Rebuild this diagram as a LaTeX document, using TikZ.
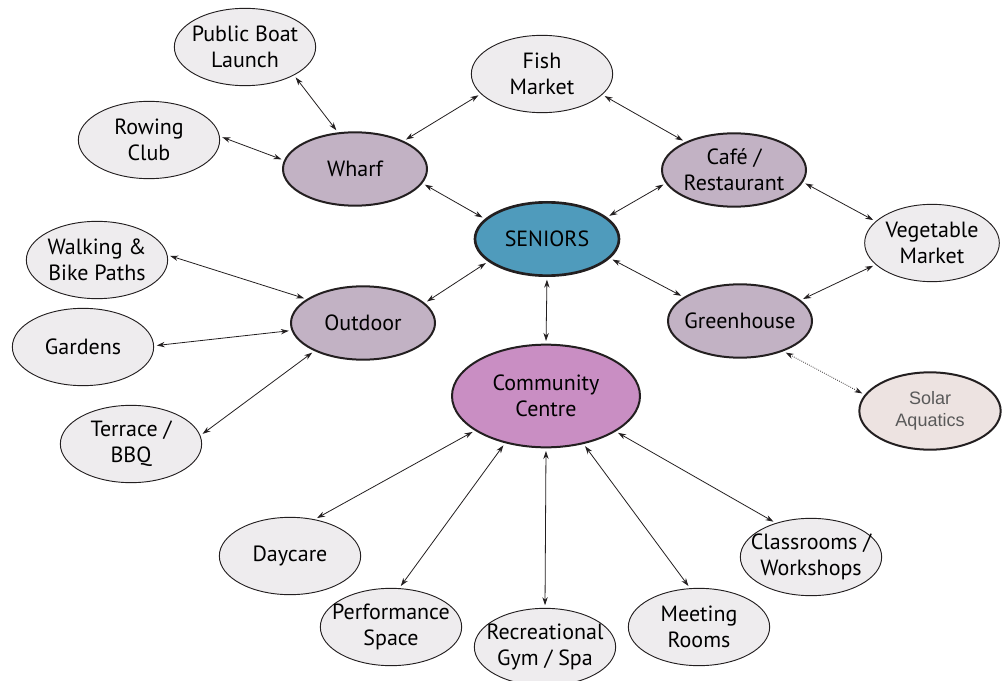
\documentclass[tikz,border=0pt]{standalone}
\usepackage{fontspec}
\setmainfont{PT Sans}
\newfontfamily\solarfont{Liberation Sans}
\usetikzlibrary{shapes.geometric,arrows.meta}

\definecolor{leafgray}{HTML}{EEECEE}
\definecolor{hubmauve}{HTML}{C2B2C4}
\definecolor{seniorblue}{HTML}{4F9BBC}
\definecolor{centrepink}{HTML}{C98EC3}
\definecolor{solarpink}{HTML}{EDE3E1}
\definecolor{inkgray}{HTML}{231F20}

\tikzset{
	leaf/.style={ellipse, draw=inkgray, line width=0.7pt, fill=leafgray, inner xsep=-8pt, inner ysep=0pt,
		minimum width=106pt, minimum height=58pt, align=center, text=black,
		font=\fontsize{16.5}{19.5}\selectfont},
	hub/.style={leaf, line width=1.5pt, fill=hubmauve, minimum width=108pt, minimum height=55pt},
	link/.style={{Stealth[length=6pt,width=4pt]}-{Stealth[length=6pt,width=4pt]}, line width=0.6pt, inkgray, shorten <=2pt, shorten >=2pt}
}

\begin{document}
\begin{tikzpicture}[x=0.75pt, y=-0.75pt]

	\useasboundingbox (0,0) rectangle (1003,681);

	% centre and hubs
	\node 	(e0)	at	(547,239) 	[hub, fill=seniorblue, line width=2pt]{SENIORS};
	\node 	(e1)	at	(546,396) 	[hub, fill=centrepink, minimum width=141pt, minimum height=77pt]{Community\\Centre};
	\node 	(e2)	at	(355,169) 	[hub]{Wharf};
	\node 	(e3)	at	(734,170) 	[hub]{Caf\'e /\\Restaurant};
	\node 	(e4)	at	(363,323) 	[hub]{Outdoor};
	\node 	(e5)	at	(740,321) 	[hub]{Greenhouse};

	% leaves
	\node 	(e6)	at	(245,47) 	[leaf]{Public Boat\\Launch};
	\node 	(e7)	at	(149,140) 	[leaf]{Rowing\\Club};
	\node 	(e8)	at	(542,74) 	[leaf]{Fish\\Market};
	\node 	(e9)	at	(932,243) 	[leaf, minimum width=101pt]{Vegetable\\Market};
	\node 	(e10)	at	(97,260) 	[leaf]{Walking \&\\Bike Paths};
	\node 	(e11)	at	(83,347) 	[leaf]{Gardens};
	\node 	(e12)	at	(131,444) 	[leaf]{Terrace /\\BBQ};
	\node 	(e13)	at	(930,411) 	[leaf, fill=solarpink, line width=1.5pt, text=black!65,
			font=\solarfont\fontsize{13.5}{16}\selectfont]{Solar\\Aquatics};
	\node 	(e14)	at	(290,556) 	[leaf]{Daycare};
	\node 	(e15)	at	(391,627) 	[leaf]{Performance\\Space};
	\node 	(e16)	at	(545,647) 	[leaf]{Recreational\\Gym / Spa};
	\node 	(e17)	at	(699,627) 	[leaf]{Meeting\\Rooms};
	\node 	(e18)	at	(811,557) 	[leaf]{Classrooms /\\Workshops};

	\draw[link]	(e6.-30)	to	(e2.115);
	\draw[link]	(e7.3)	to	(e2.173);
	\draw[link]	(e2.30)	to	(e8.198);
	\draw[link]	(e8.-19)	to	(e3.150);
	\draw[link]	(e2.-12)	to	(e0.162);
	\draw[link]	(e3.191)	to	(e0.20);
	\draw[link]	(e3.-10)	to	(e9.159);
	\draw[link]	(e9.201)	to	(e5.19);
	\draw[link]	(e0.-17)	to	(e5.157);
	\draw[link]	(e0.201)	to	(e4.18);
	\draw[link]	(e0.south)	to	(e1.north);
	\draw[link]	(e10.4)	to	(e4.157);
	\draw[link]	(e11.1)	to	(e4.186);
	\draw[link]	(e12.7)	to	(e4.210);
	\draw[link, densely dotted]	(e5.-35)	to	(e13.166);
	\draw[link]	(e1.206)	to	(e14.56);
	\draw[link]	(e1.229)	to	(e15.78);
	\draw[link]	(e1.south)	to	(e16.north);
	\draw[link]	(e1.-52)	to	(e17.103);
	\draw[link]	(e1.-27)	to	(e18.136);

\end{tikzpicture}
\end{document}
